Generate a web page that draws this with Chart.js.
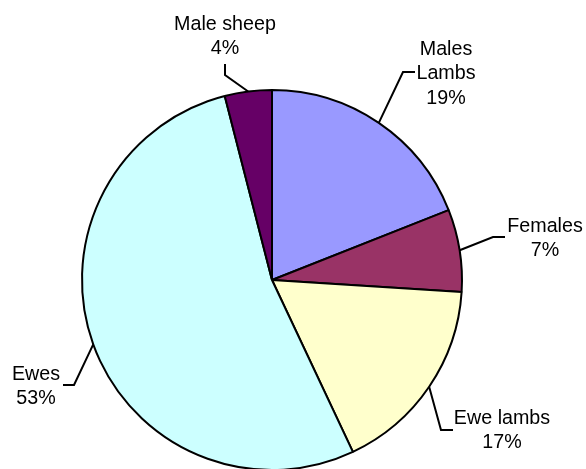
<!DOCTYPE html>
<html>
<head>
<meta charset="utf-8">
<script src="https://cdn.jsdelivr.net/npm/chart.js@4/dist/chart.umd.min.js"></script>
<style>
  html, body { margin: 0; padding: 0; background: #fff; overflow: hidden; }
  #wrap { width: 586px; height: 475px; }
</style>
</head>
<body>
<div id="wrap"><canvas id="myChart" width="586" height="475"></canvas></div>
<script>
// sheep flock composition
var categories = ["Males\nLambs", "Females", "Ewe lambs", "Ewes", "Male sheep"];
var shares = [19, 7, 17, 53, 4];
var pctLabels = ["19%", "7%", "17%", "53%", "4%"];
var sliceColors = ["#9999FF", "#993366", "#FFFFCC", "#CCFFFF", "#660066"];

// where each label sits, offsets from the pie centre (elbow, end of leader, text x, first baseline)
var labelLayout = [
    { elbow: [131, -208], end: [143, -208], tx: 174, ty: -225 },
    { elbow: [221, -43], end: [233, -43], tx: 273, ty: -48 },
    { elbow: [169, 150], end: [181, 150], tx: 230, ty: 144 },
    { elbow: [-198, 105], end: [-209, 105], tx: -236, ty: 100 },
    { elbow: [-47, -205], end: [-47, -216], tx: -47, ty: -250 },
];

var leaderLabels = {
    id: "leaderLabels",
    afterDraw: function (chart) {
        var ctx = chart.ctx;
        var meta = chart.getDatasetMeta(0);
        ctx.save();
        ctx.strokeStyle = "#000";
        ctx.lineWidth = 2;
        ctx.fillStyle = "#000";
        ctx.font = "19.7px 'Liberation Sans', Arial, sans-serif";
        ctx.textAlign = "center";
        ctx.textBaseline = "alphabetic";
        for (var i in meta.data) {
            var arc = meta.data[i];
            var p = arc.getProps(["x", "y", "startAngle", "endAngle", "outerRadius"], true);
            var mid = (p.startAngle + p.endAngle) / 2;
            var sx = p.x + Math.cos(mid) * p.outerRadius;
            var sy = p.y + Math.sin(mid) * p.outerRadius;
            var L = labelLayout[i];
            ctx.beginPath();
            ctx.moveTo(sx, sy);
            ctx.lineTo(p.x + L.elbow[0], p.y + L.elbow[1]);
            ctx.lineTo(p.x + L.end[0], p.y + L.end[1]);
            ctx.stroke();
            var lines = categories[i].split("\n").concat([pctLabels[i]]);
            for (var j = 0; j < lines.length; j++) {
                ctx.fillText(lines[j], p.x + L.tx, p.y + L.ty + j * 24.3);
            }
        }
        ctx.restore();
    },
};

var myChart = document.getElementById("myChart").getContext("2d");
var chart = new Chart(myChart, {
    type: "pie",
    data: {
        labels: categories,
        datasets: [
            {
                data: shares,
                backgroundColor: sliceColors,
                borderColor: "#000",
                borderWidth: 2,
            },
        ],
    },
    options: {
        responsive: false,
        animation: false,
        layout: { padding: { left: 81, right: 123, top: 89, bottom: 4 } },
        plugins: {
            legend: { display: false },
            tooltip: { enabled: false },
        },
    },
    plugins: [leaderLabels],
});
</script>
</body>
</html>
